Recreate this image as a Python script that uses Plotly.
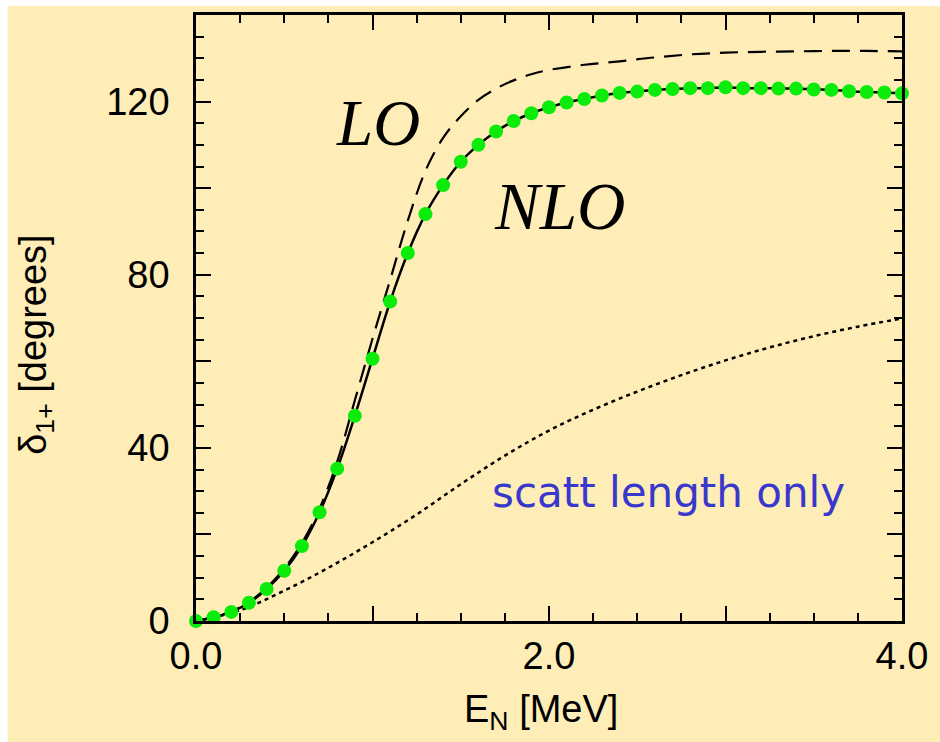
import plotly.graph_objects as go

# ---- data ----
nlo_x = [round(0.1 * i, 1) for i in range(41)]
nlo_y = [0, 0.85, 2.1, 4.2, 7.4, 11.6, 17.3, 25.1, 35.2, 47.4,
         60.6, 73.8, 85.0, 94.0, 100.7, 106.1, 110.0, 113.1, 115.5, 117.3,
         118.7, 119.8, 120.6, 121.4, 122.0, 122.3, 122.7, 122.9, 123.1, 123.1,
         123.3, 123.1, 123.1, 123.0, 123.0, 122.8, 122.7, 122.4, 122.2, 122.1,
         121.9]

lo_x = [0, 0.1, 0.2, 0.3, 0.4, 0.5, 0.6, 0.7, 0.8, 0.9, 1.0, 1.1, 1.2, 1.3, 1.4,
        1.5, 1.6, 1.7, 1.8, 1.9, 2.0, 2.2, 2.4, 2.6, 2.8, 3.0, 3.2, 3.4, 3.6, 3.8, 4.0]
lo_y = [0, 0.9, 2.2, 4.4, 7.7, 12.1, 18.0, 26.0, 36.8, 51.0, 65.2, 78.8, 92.5, 104.0, 111.6,
        116.6, 120.4, 123.0, 124.9, 126.3, 127.3, 128.5, 129.3, 130.2, 130.9, 131.3, 131.5,
        131.6, 131.7, 131.7, 131.6]

scatt_x = [0, 0.25, 0.5, 0.75, 1.0, 1.25, 1.5, 1.75, 2.0, 2.25, 2.5, 2.75, 3.0, 3.25, 3.5, 3.75, 4.0]
scatt_y = [0, 2.5, 7.0, 12.3, 18.2, 24.6, 31.6, 38.2, 44.0, 48.8, 53.0, 56.8, 60.2, 63.2, 65.8, 68.0, 69.9]

x_tickvals = [0, 1, 2, 3, 4]
x_ticktext = ["0.0", "", "2.0", "", "4.0"]
y_tickvals = [0, 20, 40, 60, 80, 100, 120, 140]
y_ticktext = ["0", "", "40", "", "80", "", "120", ""]

BG = "#FEEDB6"
GREEN = "#0CEC0C"
BLUE = "#3838CC"
SANS = "Arial, Helvetica, sans-serif"
SERIF = "Times New Roman, Liberation Serif, serif"

fig = go.Figure()
fig.add_trace(go.Scatter(x=scatt_x, y=scatt_y, mode="lines", line_shape="spline",
                         line=dict(color="black", width=2.5, dash="4px,4px")))
fig.add_trace(go.Scatter(x=lo_x, y=lo_y, mode="lines", line_shape="spline",
                         line=dict(color="black", width=2.2, dash="18px,10px")))
fig.add_trace(go.Scatter(x=nlo_x, y=nlo_y, mode="lines+markers", line_shape="spline",
                         line=dict(color="black", width=2.5),
                         marker=dict(color=GREEN, size=14), cliponaxis=False))

axis_common = dict(showline=True, linecolor="black", linewidth=2.5, mirror="ticks",
                   ticks="inside", tickwidth=2, ticklen=15, tickcolor="black",
                   showgrid=False, zeroline=False,
                   tickfont=dict(family=SANS, size=38, color="black"))

fig.update_xaxes(range=[0, 4], tickmode="array", tickvals=x_tickvals, ticktext=x_ticktext,
                 minor=dict(dtick=0.25, ticks="inside", ticklen=8, tickwidth=2, tickcolor="black"),
                 **axis_common)
fig.update_yaxes(range=[0, 140], tickmode="array", tickvals=y_tickvals, ticktext=y_ticktext,
                 minor=dict(dtick=5, ticks="inside", ticklen=8, tickwidth=2, tickcolor="black"),
                 ticklabelstandoff=16, **axis_common)

W, H = 940, 742
L, R, T, B = 196, 32, 14, 121
pw, ph = W - L - R, H - T - B

def px(xp):
    return (xp - L) / pw

def py(yp):
    return (H - B - yp) / ph

annotations = [
    dict(text="LO", x=px(380), y=py(122), font=dict(family=SERIF, size=65, color="black", style="italic")),
    dict(text="NLO", x=px(563), y=py(205), font=dict(family=SERIF, size=67, color="black", style="italic")),
    dict(text="scatt length only", x=px(673), y=py(492), font=dict(family="DejaVu Sans", size=42, color=BLUE)),
    dict(text="E<sub>N</sub> [MeV]", x=px(544), y=py(712), font=dict(family=SANS, size=38, color="black")),
    dict(text="δ<sub>1+</sub> [degrees]", x=px(35), y=py(344), textangle=-90,
         font=dict(family=SANS, size=38, color="black")),
]
for a in annotations:
    a.update(xref="paper", yref="paper", showarrow=False, xanchor="center", yanchor="middle")

shapes = [
    dict(type="rect", xref="paper", yref="paper", x0=px(-20), x1=px(6), y0=py(H + 20), y1=py(-20),
         fillcolor="white", line_width=0, layer="below"),
    dict(type="rect", xref="paper", yref="paper", x0=px(-20), x1=px(W + 20), y0=py(5), y1=py(-20),
         fillcolor="white", line_width=0, layer="below"),
]

fig.update_layout(width=W, height=H, margin=dict(l=L, r=R, t=T, b=B),
                  paper_bgcolor=BG, plot_bgcolor=BG, showlegend=False,
                  annotations=annotations, shapes=shapes)

fig.write_html("out.html")
